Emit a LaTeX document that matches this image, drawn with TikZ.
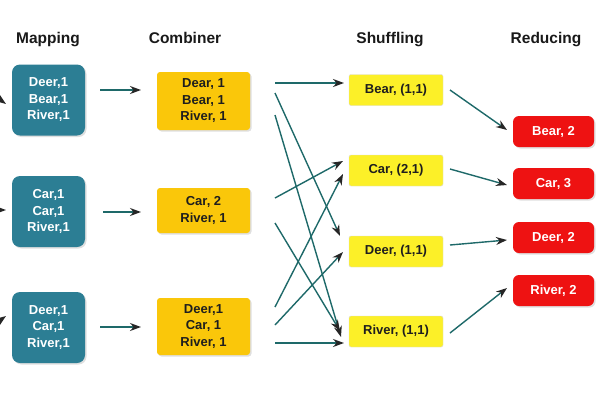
\documentclass[tikz,border=0pt]{standalone}
\usepackage{fontspec}
\setmainfont{Liberation Sans}
\usetikzlibrary{arrows.meta,shadows}
\definecolor{mapc}{RGB}{44,126,148}
\definecolor{combc}{RGB}{250,199,10}
\definecolor{shufc}{RGB}{252,240,40}
\definecolor{redc}{RGB}{238,18,18}
\definecolor{arrc}{RGB}{30,105,105}
\definecolor{txtc}{RGB}{30,30,30}
\tikzset{
  boxtext/.style={font=\bfseries\fontsize{13}{16.5}\selectfont, align=center, inner sep=0pt},
  mapbox/.style={boxtext, fill=mapc, text=white, rounded corners=8pt, minimum width=73pt, minimum height=71pt,
     drop shadow={shadow xshift=1.5pt, shadow yshift=-1.5pt, opacity=0.25}},
  combbox/.style={boxtext, fill=combc, text=txtc, rounded corners=3pt, minimum width=93pt,
     drop shadow={shadow xshift=1.5pt, shadow yshift=-1.5pt, opacity=0.25}},
  shufbox/.style={boxtext, fill=shufc, draw=black!15, text=txtc, rounded corners=2pt, minimum width=94pt, minimum height=31pt},
  redbox/.style={boxtext, fill=redc, text=white, rounded corners=6pt, minimum width=81pt, minimum height=31pt,
     drop shadow={shadow xshift=1.5pt, shadow yshift=-1.5pt, opacity=0.25}},
  title/.style={font=\bfseries\fontsize{15.5}{18}\selectfont, text=black!90, anchor=base},
  flow/.style={draw=arrc, line width=1.4pt, -{Stealth[length=11pt,width=8pt,color=black!85]}},
}
\begin{document}
\begin{tikzpicture}[x=1pt,y=-1pt]
\clip (0,0) rectangle (600,400);
\fill[white] (0,0) rectangle (600,400);

% titles
\node[title] (t1) at (48,43) {Mapping};
\node[title] (t2) at (185,43) {Combiner};
\node[title] (t3) at (390,43) {Shuffling};
\node[title] (t4) at (546,43) {Reducing};

% mapping boxes
\node[mapbox] (m1) at (48.5,100) {Deer,1\\Bear,1\\River,1};
\node[mapbox] (m2) at (48.5,211.5) {Car,1\\Car,1\\River,1};
\node[mapbox] (m3) at (48.5,327.5) {Deer,1\\Car,1\\River,1};

% combiner boxes
\node[combbox, minimum height=58pt] (c1) at (203.5,101) {Dear, 1\\Bear, 1\\River, 1};
\node[combbox, minimum height=45pt] (c2) at (203.5,210.5) {Car, 2\\River, 1};
\node[combbox, minimum height=57pt] (c3) at (203.5,326.5) {Deer,1\\Car, 1\\River, 1};

% shuffling boxes
\node[shufbox] (s1) at (396,90) {Bear, (1,1)};
\node[shufbox] (s2) at (396,170.5) {Car, (2,1)};
\node[shufbox] (s3) at (396,251.5) {Deer, (1,1)};
\node[shufbox] (s4) at (396,331.5) {River, (1,1)};

% reducing boxes
\node[redbox] (r1) at (553.5,131.5) {Bear, 2};
\node[redbox] (r2) at (553.5,183.5) {Car, 3};
\node[redbox] (r3) at (553.5,237.5) {Deer, 2};
\node[redbox] (r4) at (553.5,290.5) {River, 2};

% incoming (cut off at left edge)
\coordinate (in1) at (-30,78);
\coordinate (in2) at (-30,210);
\coordinate (in3) at (-30,342);
\coordinate (e1) at (6,104);
\coordinate (e2) at (6,210);
\coordinate (e3) at (6,316);
\draw[flow] (in1) -- (e1);
\draw[flow] (in2) -- (e2);
\draw[flow] (in3) -- (e3);

% mapping -> combiner
\coordinate (a1) at (100,90);  \coordinate (b1) at (141,90);
\coordinate (a2) at (103,212); \coordinate (b2) at (141,212);
\coordinate (a3) at (100,327); \coordinate (b3) at (141,327);
\draw[flow] (a1) -- (b1);
\draw[flow] (a2) -- (b2);
\draw[flow] (a3) -- (b3);

% combiner -> shuffling
\coordinate (c1a) at (275,83);  \coordinate (s1a) at (344,83);
\coordinate (c1b) at (275,93);  \coordinate (s3a) at (340,236);
\coordinate (c1c) at (275,115); \coordinate (s4a) at (341,337);
\coordinate (c2a) at (275,198); \coordinate (s2a) at (343,161);
\coordinate (c2b) at (275,223); \coordinate (s4b) at (340,331);
\coordinate (c3a) at (275,307); \coordinate (s2b) at (343,174);
\coordinate (c3b) at (275,325); \coordinate (s3b) at (343,252);
\coordinate (c3c) at (275,343); \coordinate (s4c) at (344,343);
\draw[flow] (c1a) -- (s1a);
\draw[flow] (c1b) -- (s3a);
\draw[flow] (c1c) -- (s4a);
\draw[flow] (c2a) -- (s2a);
\draw[flow] (c2b) -- (s4b);
\draw[flow] (c3a) -- (s2b);
\draw[flow] (c3b) -- (s3b);
\draw[flow] (c3c) -- (s4c);

% shuffling -> reducing
\coordinate (p1) at (450,90);  \coordinate (q1) at (507,130);
\coordinate (p2) at (450,169); \coordinate (q2) at (507,185);
\coordinate (p3) at (450,245); \coordinate (q3) at (507,240);
\coordinate (p4) at (450,333); \coordinate (q4) at (507,288);
\draw[flow] (p1) -- (q1);
\draw[flow] (p2) -- (q2);
\draw[flow] (p3) -- (q3);
\draw[flow] (p4) -- (q4);
\end{tikzpicture}
\end{document}
